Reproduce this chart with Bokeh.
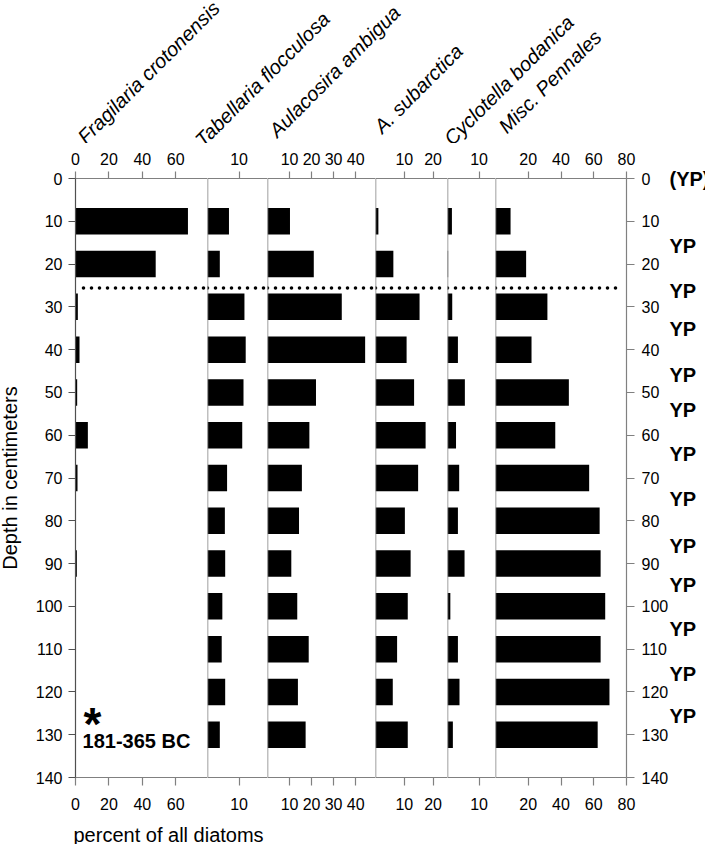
import math
from bokeh.plotting import figure
from bokeh.models import Range1d, LinearAxis, FixedTicker, Span
from bokeh.layouts import row, column
from bokeh.embed import file_html
from bokeh.resources import INLINE
from bokeh.core.properties import value

# ---------------- data ----------------
depths = [10, 20, 30, 40, 50, 60, 70, 80, 90, 100, 110, 120, 130]
species = ["Fragilaria crotonensis", "Tabellaria flocculosa", "Aulacosira ambigua",
           "A. subarctica", "Cyclotella bodanica", "Misc. Pennales"]
fragilaria = [67.3, 48.0, 1.4, 2.4, 1.0, 7.4, 1.2, 0.0, 0.8, 0.0, 0.0, 0.0, 0.0]
tabellaria = [6.8, 3.9, 11.7, 12.1, 11.4, 11.0, 6.2, 5.5, 5.6, 4.7, 4.5, 5.6, 3.9]
aulacosira = [10.2, 21.0, 33.7, 44.3, 22.0, 19.0, 15.6, 14.3, 10.8, 13.5, 18.7, 13.8, 17.3]
subarctica = [1.0, 6.2, 15.3, 10.8, 13.4, 17.4, 14.8, 10.2, 12.2, 11.2, 7.5, 6.0, 11.2]
cyclotella = [1.4, 0.2, 1.5, 3.3, 5.5, 2.7, 3.7, 3.3, 5.4, 0.9, 3.3, 3.8, 1.7]
pennales = [9.2, 18.7, 31.7, 22.0, 44.8, 36.5, 57.2, 63.6, 64.2, 67.0, 64.2, 69.6, 62.4]
series = [fragilaria, tabellaria, aulacosira, subarctica, cyclotella, pennales]

x_max = [79, 19, 49, 25, 15.2, 80]
x_ticks = [[0, 20, 40, 60], [10], [10, 20, 30, 40], [10, 20], [10], [20, 40, 60, 80]]
depth_ticks = [0, 10, 20, 30, 40, 50, 60, 70, 80, 90, 100, 110, 120, 130, 140]
depth_max = 140
boundary_depth = 25.6
yp_depths = [15.7, 26.3, 35.2, 46.0, 54.2, 64.3, 75.0, 85.9, 95.0, 105.2, 115.8, 125.6]
yp_top_label = "(YP)"
yp_label = "YP"
date_text = "181-365 BC"
y_title = "Depth in centimeters"
x_title = "percent of all diatoms"

# ---------------- layout / style ----------------
FONT = "Liberation Sans"
AXC = "#808080"
FRAME_H = 599
FRAME_W = [132, 60, 108, 72, 48, 131]
TOP_B, BOT_B = 35, 45
L_W = 22
LEFT_B, RIGHT_B = 53, 79
HDR_H, FTR_H = 143, 22
TOTAL_W = 705
BAR_H = 6.2

hdr_x = [80.5, 198, 272, 377, 447, 501.5]
hdr_y = [139.5, 142.5, 133, 129, 141, 129]  # image rows of label baselines


def base_fig(**kw):
    p = figure(output_backend="svg", toolbar_location=None,
               x_axis_location=None, y_axis_location=None,
               outline_line_color=None, background_fill_color="white",
               border_fill_color="white", **kw)
    p.xgrid.visible = False
    p.ygrid.visible = False
    return p


def axis_style(ax, standoff, tick_out, color=AXC):
    ax.axis_line_color = color
    ax.axis_line_width = 1.2
    ax.major_tick_line_color = color
    ax.major_tick_line_width = 1.2
    ax.major_tick_out = tick_out
    ax.major_tick_in = 0
    ax.minor_tick_line_color = None
    ax.major_label_standoff = standoff
    ax.major_label_text_font = FONT
    ax.major_label_text_font_size = "16px"
    ax.major_label_text_color = "black"


# narrow strip holding the vertical depth title
lp = base_fig(frame_width=L_W, frame_height=FRAME_H, x_range=Range1d(0, L_W),
              y_range=Range1d(0, depth_max), min_border=0,
              min_border_top=TOP_B, min_border_bottom=BOT_B)
lp.text(x=[9.5], y=[depth_max / 2], text=[y_title], angle=math.pi / 2,
        text_font=value(FONT), text_font_size="20px", text_align="center",
        text_baseline="middle", text_color="black")

panels = []
for i, vals in enumerate(series):
    p = base_fig(frame_width=FRAME_W[i], frame_height=FRAME_H,
                 x_range=Range1d(0, x_max[i]), y_range=Range1d(depth_max, 0),
                 min_border=0, min_border_top=TOP_B, min_border_bottom=BOT_B,
                 min_border_left=LEFT_B if i == 0 else 0,
                 min_border_right=RIGHT_B if i == 5 else 0)
    p.hbar(y=depths, left=0, right=vals, height=BAR_H,
           fill_color="black", line_color=None)
    for loc, so, to in (("above", 7, 7), ("below", 12, 8)):
        ax = LinearAxis(ticker=FixedTicker(ticks=x_ticks[i], minor_ticks=[]))
        axis_style(ax, so, to)
        p.add_layout(ax, loc)
    if i > 0:
        p.add_layout(Span(location=0, dimension="height", line_color=AXC, line_width=1.5))
    # dotted boundary line (inset a few pixels at the outer ends)
    ppx = x_max[i] / FRAME_W[i]
    x0 = 8 * ppx if i == 0 else 0
    x1 = x_max[i] - (4 * ppx if i == 5 else 0)
    p.segment(x0=[x0], y0=[boundary_depth], x1=[x1], y1=[boundary_depth],
              line_color="black", line_width=3.6, line_dash="0 8", line_cap="round")
    if i == 0:
        ax = LinearAxis(ticker=FixedTicker(ticks=depth_ticks, minor_ticks=[]))
        axis_style(ax, 6, 7, color="#505050")
        p.add_layout(ax, "left")
        p.text(x=[10.2], y=[127.5], text=["*"], text_font=value(FONT),
               text_font_style="bold", text_font_size="46px",
               text_align="center", text_baseline="alphabetic", text_color="black")
        p.text(x=[4.2], y=[131.4], text=[date_text], text_font=value(FONT),
               text_font_style="bold", text_font_size="20px",
               text_align="left", text_baseline="middle", text_color="black")
    if i == 5:
        ax = LinearAxis(ticker=FixedTicker(ticks=depth_ticks, minor_ticks=[]))
        axis_style(ax, 7, 8)
        p.add_layout(ax, "right")
        # second, outer axis carrying the YP markers
        yp_ax = LinearAxis(ticker=FixedTicker(ticks=[0] + yp_depths, minor_ticks=[]))
        overrides = {0: yp_top_label}
        for d in yp_depths:
            overrides[d] = yp_label
        yp_ax.major_label_overrides = overrides
        yp_ax.axis_line_color = None
        yp_ax.major_tick_line_color = None
        yp_ax.minor_tick_line_color = None
        yp_ax.major_tick_out = 0
        yp_ax.major_tick_in = 0
        yp_ax.major_label_standoff = -2
        yp_ax.major_label_text_font = FONT
        yp_ax.major_label_text_font_size = "20px"
        yp_ax.major_label_text_font_style = "bold"
        yp_ax.major_label_text_color = "black"
        p.add_layout(yp_ax, "right")
    panels.append(p)

# header with rotated taxon names
hdr = base_fig(frame_width=TOTAL_W, frame_height=HDR_H,
               x_range=Range1d(0, TOTAL_W), y_range=Range1d(0, HDR_H), min_border=0)
hdr.text(x=hdr_x, y=[HDR_H - v for v in hdr_y], text=species, angle=math.pi / 4,
         text_font=value(FONT), text_font_style="italic", text_font_size="20px",
         text_align="left", text_baseline="alphabetic", text_color="black")

# footer with x-axis title
ftr = base_fig(frame_width=TOTAL_W, frame_height=FTR_H,
               x_range=Range1d(0, TOTAL_W), y_range=Range1d(FTR_H, 0),
               min_border=0)
ftr.text(x=[73], y=[FTR_H - 10], text=[x_title],
         text_font=value(FONT), text_font_size="20px", text_align="left",
         text_baseline="alphabetic", text_color="black")

layout = column(hdr, row(lp, *panels), ftr)
open("out.html", "w").write(file_html(layout, INLINE))
